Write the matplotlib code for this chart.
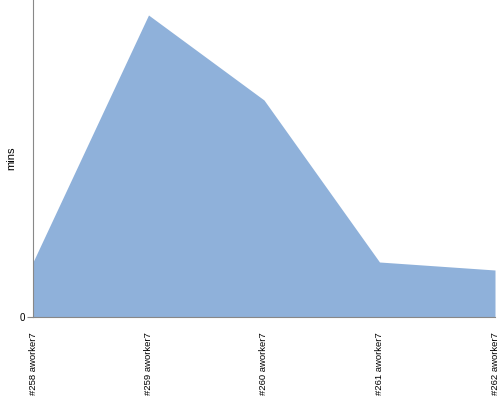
import matplotlib.pyplot as plt

labels = ["#258 aworker7", "#259 aworker7", "#260 aworker7", "#261 aworker7", "#262 aworker7"]
mins = [55, 302, 217, 55, 47]

plt.rcParams["font.family"] = ["Liberation Sans Narrow", "Liberation Sans", "DejaVu Sans"]

fig = plt.figure(figsize=(5, 4), dpi=100)
ax = fig.add_axes([0.066, 0.2075, 0.924, 0.7925])

x = list(range(len(labels)))
ax.fill_between(x, mins, 0, color="#8fb1da", linewidth=0)

ax.set_xlim(0, len(labels) - 1)
ax.set_ylim(0, 317)
ax.set_yticks([0])
ax.set_yticklabels(["0"], fontsize=7, family=["Liberation Sans", "DejaVu Sans"])
ax.set_xticks(x)
ax.set_xticklabels(labels, rotation=90, fontsize=6.8)
ax.tick_params(axis="x", length=0, pad=11)
ax.tick_params(axis="y", length=4, color="#888888", pad=2)
ax.set_ylabel("mins", fontsize=8, family=["Liberation Sans", "DejaVu Sans"])
ax.yaxis.set_label_coords(-0.036, 0.5)

for s in ["top", "right"]:
    ax.spines[s].set_visible(False)
for s in ["left", "bottom"]:
    ax.spines[s].set_color("#888888")
    ax.spines[s].set_linewidth(0.8)

fig.savefig("out.png", dpi=100)
